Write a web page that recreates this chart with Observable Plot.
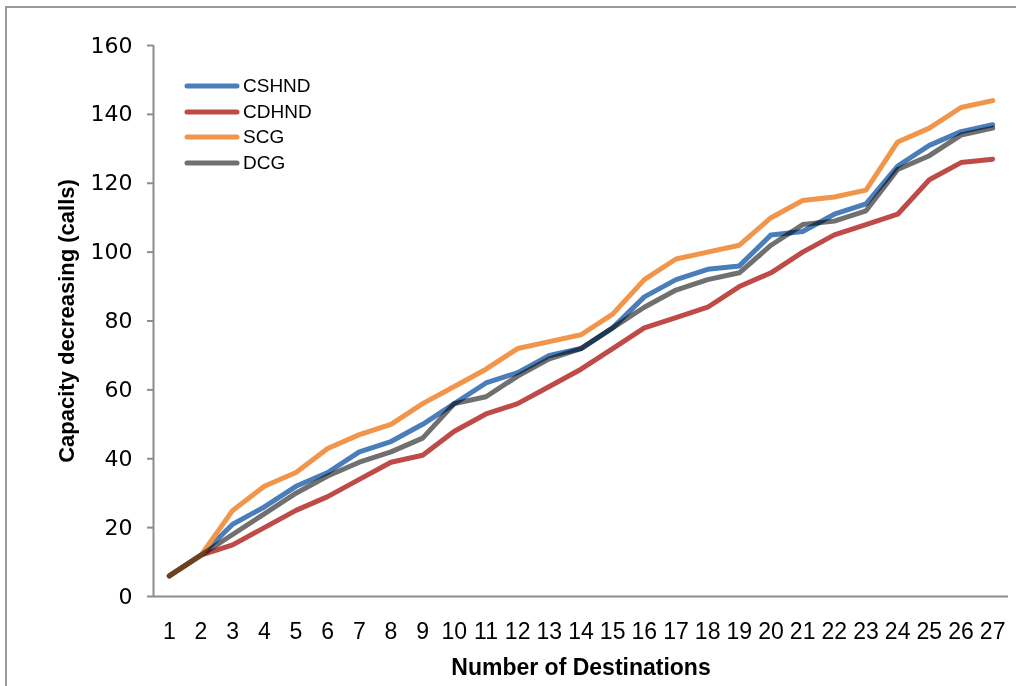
<!DOCTYPE html>
<html>
<head>
<meta charset="utf-8">
<script src="https://cdn.jsdelivr.net/npm/d3@7"></script>
<script src="https://cdn.jsdelivr.net/npm/@observablehq/plot@0.6"></script>
<style>
  html, body { margin: 0; padding: 0; background: #fff; overflow: hidden; }
  #wrap { position: relative; width: 1016px; height: 686px; overflow: hidden; }
  #frame { position: absolute; left: 5px; top: 6px; width: 1040px; height: 720px; border: 2px solid #9a9a9a; box-sizing: border-box; pointer-events: none; }
  #legend { position: absolute; left: 184px; top: 73px; font-family: "Liberation Sans", Arial, sans-serif; font-size: 19px; color: #000; }
  #legend .row { display: flex; align-items: center; height: 25.7px; }
  #legend svg { margin-right: 3px; }
</style>
</head>
<body>
<div id="wrap">
  <div id="chart"></div>
  <div id="legend"></div>
  <div id="frame"></div>
</div>
<script>
// ---- data ----
const destinations = [1,2,3,4,5,6,7,8,9,10,11,12,13,14,15,16,17,18,19,20,21,22,23,24,25,26,27];
const cshnd = [6,12,21,26,32,36,42,45,50,56,62,65,70,72,78,87,92,95,96,105,106,111,114,125,131,135,137];
const cdhnd = [6,12,15,20,25,29,34,39,41,48,53,56,61,66,72,78,81,84,90,94,100,105,108,111,121,126,127];
const scg   = [6,12,25,32,36,43,47,50,56,61,66,72,74,76,82,92,98,100,102,110,115,116,118,132,136,142,144];
const dcg   = [6,12,18,24,30,35,39,42,46,56,58,64,69,72,78,84,89,92,94,102,108,109,112,124,128,134,136];
const seriesNames = ["CSHND", "CDHND", "SCG", "DCG"];
const seriesValues = [cshnd, cdhnd, scg, dcg];
const seriesColors = ["#4a7ebb", "#be4b48", "#f0954a", "#707070"];
const seriesBlend = ["normal", "normal", "normal", "multiply"];
const yTicks = [0,20,40,60,80,100,120,140,160];
const xTitle = "Number of Destinations";
const yTitle = "Capacity decreasing (calls)";

const xDomain = [0.5, 27.5];
const yDomain = [0, 160];
const axisGray = "#8c8c8c";

const lineMarks = seriesValues.map((vals, k) =>
  Plot.line(destinations.map((d, i) => ({x: d, y: vals[i]})), {
    x: "x", y: "y",
    stroke: seriesColors[k], strokeWidth: 5,
    strokeLinecap: "round", strokeLinejoin: "round",
    mixBlendMode: seriesBlend[k]
  })
);

const chart = Plot.plot({
  width: 1016,
  height: 686,
  marginLeft: 153,
  marginRight: 8,
  marginTop: 45,
  marginBottom: 90,
  style: { background: "#fff", color: "#000", fontFamily: "Liberation Sans, Arial, sans-serif" },
  x: { domain: xDomain, axis: null },
  y: { domain: yDomain, axis: null },
  marks: [
    Plot.ruleY([yDomain[0]], { stroke: axisGray, strokeWidth: 2 }),
    Plot.ruleX([xDomain[0]], { stroke: axisGray, strokeWidth: 2 }),
    Plot.axisY(yTicks, { tickSize: 6, tickPadding: 15, stroke: axisGray, strokeWidth: 2, fill: "#000",
      fontSize: 22, fontFamily: "DejaVu Sans, sans-serif", label: null, ariaLabel: "ytick" }),
    Plot.axisX(destinations, { tickSize: 0, tickPadding: 26, fill: "#000",
      fontSize: 23, fontFamily: "Liberation Sans, Arial, sans-serif", label: null, tickFormat: d => String(d), ariaLabel: "xtick" }),
    Plot.text([xTitle], { frameAnchor: "bottom", dy: 78, fontSize: 23, fontWeight: "bold", fill: "#000",
      fontFamily: "Liberation Sans, Arial, sans-serif" }),
    Plot.text([yTitle], { frameAnchor: "left", dx: -87, rotate: -90, textAnchor: "middle", fontSize: 22, fontWeight: "bold", fill: "#000",
      fontFamily: "Liberation Sans, Arial, sans-serif" }),
    ...lineMarks
  ]
});
document.getElementById("chart").appendChild(chart);

// enforce tick label fonts
d3.select(chart).selectAll('g[aria-label="ytick"] text, g[aria-label="y-axis tick label"] text')
  .style("font-size", "22px").style("font-family", "DejaVu Sans, sans-serif");
d3.select(chart).selectAll('g[aria-label="xtick"] text, g[aria-label="x-axis tick label"] text')
  .style("font-size", "23px").style("font-family", "Liberation Sans, Arial, sans-serif");

// legend
const legend = d3.select("#legend");
seriesNames.forEach((name, k) => {
  const row = legend.append("div").attr("class", "row");
  const s = row.append("svg").attr("width", 56).attr("height", 10);
  s.append("line").attr("x1", 3).attr("x2", 53).attr("y1", 5).attr("y2", 5)
    .attr("stroke", seriesColors[k]).attr("stroke-width", 5).attr("stroke-linecap", "round");
  row.append("span").text(name);
});
</script>
</body>
</html>
